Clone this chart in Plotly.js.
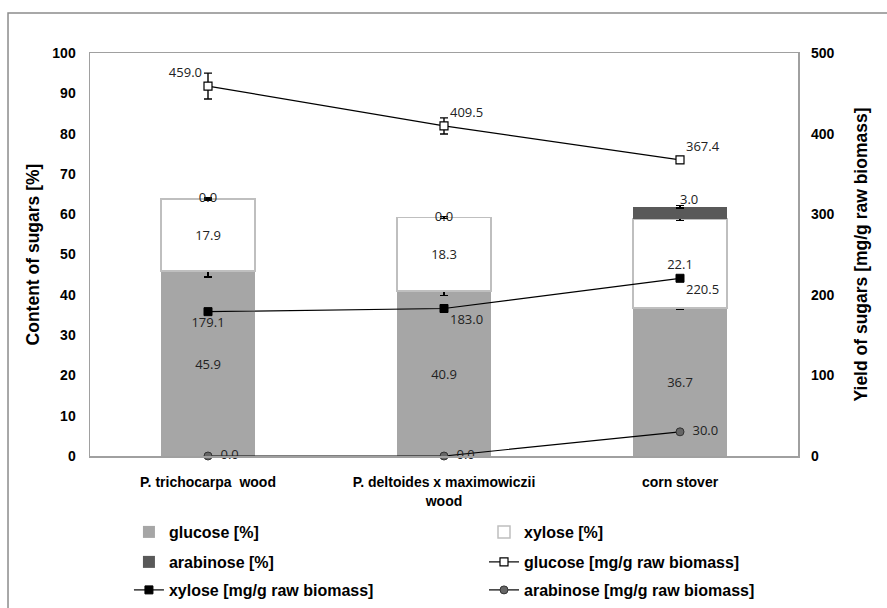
<!DOCTYPE html>
<html><head><meta charset="utf-8">
<script src="https://cdn.plot.ly/plotly-3.0.1.min.js"></script>
<style>html,body{margin:0;padding:0;background:#fff}#chart{width:887px;height:608px}</style>
</head><body><div id="chart"></div>
<script>
const categories = ['P. trichocarpa  wood', 'P. deltoides x maximowiczii<br>wood', 'corn stover'];
const glucosePct = [45.9, 40.9, 36.7];
const glucosePctErr = [1.5, 1.1, 0.4];
const xylosePct = [17.9, 18.3, 22.1];
const xylosePctErr = [0.3, 0.3, 0.3];
const arabinosePct = [0.0, 0.0, 3.0];
const arabinosePctErr = [0.2, 0.2, 0.3];
const glucoseYield = [459.0, 409.5, 367.4];
const glucoseYieldErr = [16, 10, 4];
const xyloseYield = [179.1, 183.0, 220.5];
const xyloseYieldErr = [2, 2, 3];
const arabinoseYield = [0.0, 0.0, 30.0];
const arabinoseYieldErr = [0, 0, 1];

const fmt = a => a.map(v => v.toFixed(1));
const totals = categories.map((c, i) => glucosePct[i] + xylosePct[i] + arabinosePct[i]);
const labelFont = {family: 'Open Sans, DejaVu Sans, sans-serif', size: 13, color: '#222'};
const boldFont = {family: 'Liberation Sans, Arial, sans-serif', weight: 'bold', color: '#000'};
const errStyle = {color: '#000', thickness: 1.4, width: 4};

const traces = [
  {type: 'bar', name: 'glucose [%]', x: categories, y: glucosePct, legend: 'legend',
   marker: {color: '#a6a6a6'}, text: fmt(glucosePct), textposition: 'inside', insidetextanchor: 'middle',
   insidetextfont: labelFont, error_y: Object.assign({type: 'data', array: glucosePctErr, visible: true}, errStyle)},
  {type: 'bar', name: 'xylose [%]', x: categories, y: xylosePct, legend: 'legend2',
   marker: {color: '#ffffff', line: {color: '#bfbfbf', width: 1.5}}, text: fmt(xylosePct), textposition: 'inside', insidetextanchor: 'middle',
   insidetextfont: labelFont, error_y: Object.assign({type: 'data', array: xylosePctErr, visible: true}, errStyle)},
  {type: 'bar', name: 'arabinose [%]', x: categories, y: arabinosePct, legend: 'legend3',
   marker: {color: '#595959'}, textposition: 'none',
   error_y: Object.assign({type: 'data', array: arabinosePctErr, visible: true}, errStyle)},
  {type: 'scatter', mode: 'text', x: categories, y: totals, text: fmt(arabinosePct), showlegend: false,
   textposition: ['middle center', 'middle center', 'top right'], textfont: labelFont, cliponaxis: false, hoverinfo: 'skip'},
  {type: 'scatter', name: 'glucose [mg/g raw biomass]', x: categories, y: glucoseYield, yaxis: 'y2', legend: 'legend4',
   mode: 'lines+markers+text', text: fmt(glucoseYield), textposition: ['top left', 'top right', 'top right'], textfont: labelFont,
   line: {color: '#000', width: 1.2}, marker: {symbol: 'square', color: '#fff', size: 8, line: {color: '#000', width: 1.2}},
   error_y: Object.assign({type: 'data', array: glucoseYieldErr, visible: true}, errStyle), cliponaxis: false},
  {type: 'scatter', name: 'xylose [mg/g raw biomass]', x: categories, y: xyloseYield, yaxis: 'y2', legend: 'legend5',
   mode: 'lines+markers+text', text: fmt(xyloseYield), textposition: ['bottom center', 'bottom right', 'bottom right'], textfont: labelFont,
   line: {color: '#000', width: 1.2}, marker: {symbol: 'square', color: '#000', size: 8, line: {color: '#000', width: 1}},
   error_y: Object.assign({type: 'data', array: xyloseYieldErr, visible: true}, errStyle), cliponaxis: false},
  {type: 'scatter', name: 'arabinose [mg/g raw biomass]', x: categories, y: arabinoseYield, yaxis: 'y2', legend: 'legend6',
   mode: 'lines+markers+text', text: fmt(arabinoseYield).map(t => '\u2002' + t), textposition: 'middle right', textfont: labelFont,
   line: {color: '#000', width: 1.2}, marker: {symbol: 'circle', color: '#666', size: 8, line: {color: '#333', width: 1}},
   error_y: Object.assign({type: 'data', array: arabinoseYieldErr, visible: true}, errStyle), cliponaxis: false}
];

const col1 = 0.055, col2 = 0.5565;
const row1 = -0.1886, row2 = -0.263, row3 = -0.3325;
const lg = (x, y) => ({orientation: 'h', xanchor: 'left', yanchor: 'middle', x: x, y: y,
  font: Object.assign({size: 16}, boldFont), bgcolor: 'rgba(0,0,0,0)', itemwidth: 30});

const layout = {
  width: 887, height: 608,
  margin: {l: 90, r: 89, t: 53, b: 152, autoexpand: false},
  paper_bgcolor: '#fff', plot_bgcolor: '#fff',
  barmode: 'stack', bargap: 0.6,
  xaxis: {type: 'category', showline: true, linecolor: '#a0a0a0', linewidth: 1.5, mirror: true,
    showgrid: false, ticks: '', ticklabelstandoff: 13, tickfont: Object.assign({size: 14}, boldFont), automargin: false},
  yaxis: {range: [0, 100], dtick: 10, showline: true, linecolor: '#a0a0a0', linewidth: 1.5, mirror: true,
    showgrid: false, zeroline: false, ticks: '', ticklabelstandoff: 10, tickfont: Object.assign({size: 14}, boldFont), automargin: false,
    title: {text: 'Content of sugars [%]', font: Object.assign({size: 17.5}, boldFont), standoff: 8}},
  yaxis2: {range: [0, 500], dtick: 100, overlaying: 'y', side: 'right', showline: false, showgrid: false, zeroline: false,
    ticks: '', ticklabelstandoff: 12, tickfont: Object.assign({size: 14}, boldFont), automargin: false,
    title: {text: 'Yield of sugars [mg/g raw biomass]', font: Object.assign({size: 17.5}, boldFont), standoff: 21}},
  legend: lg(col1, row1),
  legend2: lg(col2, row1),
  legend3: lg(col1, row2),
  legend4: lg(col2, row2),
  legend5: lg(col1, row3),
  legend6: lg(col2, row3),
  shapes: [{type: 'rect', xref: 'paper', yref: 'paper', x0: -0.1158, x1: 1.14, y0: -0.42, y1: 1.099,
    line: {color: '#8c8c8c', width: 1.5}, fillcolor: 'rgba(0,0,0,0)', layer: 'below'}],
  showlegend: true
};

Plotly.newPlot('chart', traces, layout, {displayModeBar: false, staticPlot: true});
</script></body></html>
